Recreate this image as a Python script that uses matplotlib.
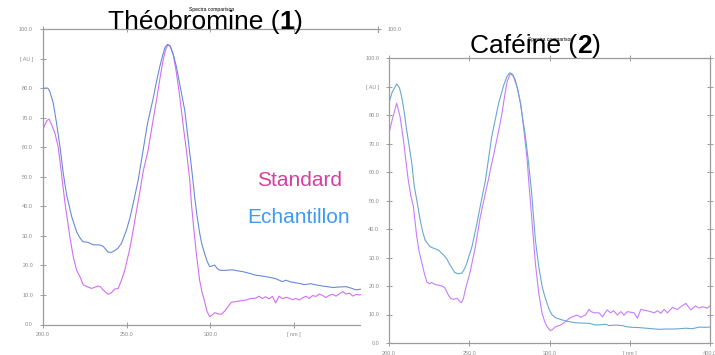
import matplotlib

matplotlib.use("Agg")
import matplotlib.pyplot as plt
from matplotlib.patches import Rectangle

W, H = 715, 355

plt.rcParams["font.family"] = ["Liberation Sans", "DejaVu Sans"]

# Théobromine (1): standard spectrum
theo_std_nm = [200, 202.4, 203.8, 205.4, 207.3, 209.3, 211, 213.3, 216.2, 218.2,
               220.2, 222.2, 224.2, 226.5, 229.2, 231, 233, 234.5, 236, 239,
               241, 243, 245, 247, 249, 252, 254, 256, 258, 260,
               262.9, 265.5, 267.9, 270, 271.8, 273.3, 274.5, 276, 278, 279.8,
               281.3, 282.7, 284.2, 285.7, 287.7, 288.7, 290, 291.6, 293.6, 295,
               296.6, 298, 299.6, 301, 302.6, 304.5, 306.5, 308.5, 310.5, 312.5,
               314.5, 318, 321.4, 324, 327, 329, 331, 333, 335, 337,
               339, 341, 343, 345, 347, 349, 351, 353, 355, 357,
               359, 361, 363, 365, 367, 369, 371, 373, 375, 377,
               379, 381, 383, 385, 387, 389, 392, 395, 398, 400]
theo_std_au = [65.8, 69, 69.5, 67.5, 64.7, 60, 52, 41, 29.7, 23,
               18.4, 16.2, 13.4, 12.8, 12.2, 12.6, 13, 12.8, 11.7, 10.2,
               10.8, 12, 12.2, 15, 18.4, 25.8, 32, 38.7, 45, 52,
               59, 68, 76, 83.5, 89.5, 93, 94.5, 94.3, 91, 85,
               79, 72.6, 65.5, 59, 49, 41, 33, 24.2, 15, 11,
               7.7, 4.5, 2.6, 3.2, 4, 3.6, 3.5, 4.5, 6, 7.5,
               7.7, 8, 8.3, 8.8, 8.9, 9.6, 8.8, 9.4, 8.7, 9.5,
               7.3, 9.6, 8.7, 9.2, 8.9, 8.4, 8.8, 8.3, 9.0, 9.6,
               8.8, 9.8, 9.5, 10.3, 9.8, 9.1, 9.9, 10.2, 9.6, 10.4,
               11.1, 10.3, 10.6, 9.6, 10.2, 10, 10.5, 10, 10.4, 10.2]

# Théobromine (1): sample spectrum
theo_ech_nm = [200, 203, 204.3, 206.3, 208.3, 210.3, 212.3, 214.3, 217.3, 220.2,
               222, 224, 227, 230, 234, 236, 239, 241, 243, 245,
               247, 250, 252, 254, 257, 259.9, 262.5, 265.7, 268, 269.8,
               271.5, 273, 274.5, 276, 277.8, 279.8, 282, 284.7, 286.7, 288.7,
               290.7, 292, 293.6, 295, 296.6, 298, 299.6, 301, 302.6, 304,
               305.5, 308, 313, 316, 320, 324, 327, 331, 335, 339,
               343, 345, 348, 353, 356, 360, 363, 367, 370, 373,
               377, 381, 384, 387, 390, 394, 397, 400]
theo_ech_au = [80, 80, 78.8, 74.9, 68, 60.2, 51, 43.8, 36.5, 31.4,
               29.5, 28, 27.8, 27, 26.9, 26.5, 24.5, 24.4, 25, 25.9,
               27.5, 32, 36, 41, 49, 59, 68, 76, 82.5, 87.2,
               91, 93.8, 94.8, 94.3, 91.5, 87.2, 80.5, 72.6, 63, 53.4,
               43, 37, 31, 27, 24, 21.5, 19.6, 19.8, 20.1, 19,
               18.4, 18.3, 18.5, 18.2, 17.8, 17.2, 16.7, 16.4, 16, 15.5,
               14.5, 15, 14.4, 13.9, 13.5, 13.8, 13.4, 13, 12.8, 12.5,
               12.7, 12.8, 12.3, 11.7, 12.0, 12.4, 12.0, 12.2]

# Caféine (2): standard spectrum
caf_std_nm = [200, 202.5, 204.8, 206.9, 209, 210.5, 212, 213.5, 215.2, 217.3,
              218.8, 220.5, 222, 223.5, 225, 226.7, 228.3, 229.8, 231.5, 233,
              234.6, 236, 237, 238.5, 240.2, 242.3, 243.5, 245, 246.3, 247.5,
              250.6, 253.8, 256.9, 260, 262, 264, 266.3, 268.5, 270.4, 272,
              273.6, 275.6, 277.5, 280, 282, 284, 286.1, 287, 289.2, 291.2,
              293.3, 295.4, 297, 298.5, 300.6, 302, 303.7, 305.3, 306.9, 310,
              312, 314.2, 317.3, 319.4, 321, 322.5, 324.6, 326, 327.7, 330.8,
              333, 334.5, 336, 338, 340, 342.3, 344.4, 346.5, 348.5, 350.5,
              352.7, 354.8, 356.9, 359, 361, 363, 365.2, 367.3, 369.4, 371.4,
              373.5, 375, 376.7, 378.3, 379.8, 382, 385, 388, 391, 393,
              395.2, 396.8, 398.3, 400]
caf_std_au = [73.6, 79.5, 84.1, 79.4, 71.2, 64, 57.2, 52, 47.8, 37.3,
              32, 28, 24.5, 21.5, 20.8, 21.2, 20.6, 20.4, 20.2, 20,
              19.5, 18, 16.8, 15.6, 15.3, 15.7, 15, 14.1, 15.5, 18.6,
              25, 33.8, 44.3, 52.5, 57.5, 63, 69, 75, 80.6, 86.5,
              91.7, 94.6, 93.5, 89.5, 84, 75, 64.2, 57.2, 42, 28,
              17.4, 10.4, 7.5, 5.7, 4.3, 4.8, 5.7, 6.0, 6.3, 7.5,
              8.5, 9.2, 9.8, 9, 9.5, 9.8, 11.8, 11.0, 10.6, 10.6,
              9.2, 10.5, 11.6, 10.6, 11.3, 9.8, 11, 9.8, 11, 10.8,
              10.6, 8.7, 11.8, 11.5, 11.3, 11.0, 10.6, 11.3, 10.4, 11.8,
              10.6, 11.5, 12.5, 12.0, 11.8, 12.8, 13.9, 11.6, 13, 12.3,
              12.7, 12.5, 12.2, 13]

# Caféine (2): sample spectrum
caf_ech_nm = [200, 202, 204.8, 206.5, 207.9, 209.5, 211, 212.6, 214.2, 215.8,
              217.3, 219.4, 221, 222.5, 225.6, 228, 230.8, 234, 236, 238,
              241, 243, 245.4, 247, 248.5, 250, 251.7, 254.8, 258, 260,
              261, 264, 268.3, 271.5, 273.5, 275.2, 277, 278.7, 280.3, 281.9,
              285, 287, 288.7, 289.2, 291.2, 293.3, 295.4, 297, 298.5, 300,
              301.7, 304, 307.9, 312, 316.2, 320, 324.6, 328.7, 332, 335,
              337, 341, 345.4, 348, 351.7, 356, 360, 364, 368.3, 372,
              376.7, 381, 385, 389, 393.3, 397, 400]
caf_ech_au = [84.3, 88, 90.9, 89.5, 86.4, 81, 74.7, 69, 63, 54.8,
              50.2, 43.2, 39, 36.1, 33.8, 33.2, 32.6, 30.9, 29.5, 27.4,
              24.7, 24.3, 24.5, 26, 28, 30.8, 33.8, 42, 51.3, 56.8,
              60.7, 72.4, 84.1, 90.5, 93.5, 94.8, 94.3, 92.3, 88.5, 84.1,
              72.4, 63, 53.7, 50.2, 36.1, 26.8, 19.8, 16.5, 13.9, 11.5,
              9.8, 8.8, 8.1, 7.5, 7.1, 7.0, 6.9, 6.3, 6.4, 6.6,
              6.1, 6.3, 6.1, 5.7, 5.5, 5.4, 5.2, 5.0, 4.8, 4.9,
              4.9, 5.0, 5.2, 5.0, 5.6, 5.5, 5.6]

au_ticks = [0, 10, 20, 30, 40, 50, 60, 70, 80, 90, 100]
au_labels = ["0.0", "10.0", "20.0", "30.0", "40.0", "50.0",
             "60.0", "70.0", "80.0", "[ AU ]", "100.0"]
nm_ticks = [200, 250, 300, 350, 400]
nm_labels = ["200.0", "250.0", "300.0", "[ nm ]", "400.0"]

GREY = "#9c9c9c"


def px_axes(fig, x0, y0, x1, y1, zorder):
    ax = fig.add_axes([x0 / W, 1 - y1 / H, (x1 - x0) / W, (y1 - y0) / H])
    ax.set_zorder(zorder)
    return ax


def style_spectrum_axes(ax, right_labels):
    ax.set_xlim(200, 400)
    ax.set_ylim(0, 100)
    ax.set_xticks(nm_ticks, nm_labels)
    ax.set_yticks(au_ticks, au_labels)
    for side in ax.spines.values():
        side.set_color(GREY)
        side.set_linewidth(0.9)
    ax.tick_params(direction="inout", length=4, width=0.7, color=GREY,
                   labelsize=4, labelcolor="#8c8c8c",
                   top=True, right=True, labelright=right_labels)
    ax.tick_params(axis="x", pad=3.5)
    ax.tick_params(axis="y", pad=5)


def mixed_title(fig, cx, base_y, parts, size=19):
    # lay out normal/bold pieces one after another, centred on cx
    renderer = fig.canvas.get_renderer()
    pieces = []
    for s, weight in parts:
        t = fig.text(0, 0, s, fontsize=size, fontweight=weight, va="baseline",
                     color="black", zorder=5)
        pieces.append((t, t.get_window_extent(renderer).width))
    x = cx - sum(w for _, w in pieces) / 2
    for t, w in pieces:
        t.set_position((x / W, 1 - base_y / H))
        x += w


fig = plt.figure(figsize=(W / 100, H / 100), dpi=100)

# left spectrum (Théobromine)
ax1 = px_axes(fig, 42.7, 29, 378, 324.5, 0)
style_spectrum_axes(ax1, True)
ax1.plot(theo_std_nm, theo_std_au, color="#d46ef2", lw=0.8)
ax1.plot(theo_ech_nm, theo_ech_au, color="#6a8ad8", lw=0.8)

# second screenshot sits on top of the first one
fig.add_artist(Rectangle((361 / W, 0), 1 - 361 / W, 1 - 33 / H,
                         transform=fig.transFigure, facecolor="white",
                         edgecolor="none", zorder=1))

# right spectrum (Caféine)
ax2 = px_axes(fig, 389, 58, 710, 343, 2)
style_spectrum_axes(ax2, False)
ax2.plot(caf_std_nm, caf_std_au, color="#c87cfc", lw=0.8)
ax2.plot(caf_ech_nm, caf_ech_au, color="#68a8d0", lw=0.8)

mixed_title(fig, 205.5, 29, [("Théobromine (", "normal"), ("1", "bold"), (")", "normal")])
mixed_title(fig, 535, 53, [("Caféine (", "normal"), ("2", "bold"), (")", "normal")])

fig.text(212 / W, 1 - 10 / H, "Spectra comparison", fontsize=3.6,
         ha="center", va="center", zorder=6)
fig.text(551 / W, 1 - 39 / H, "Spectra comparison", fontsize=3.6,
         ha="center", va="center", zorder=6)

fig.text(300 / W, 1 - 186 / H, "Standard", fontsize=15, color="#d4409f",
         ha="center", va="baseline")
fig.text(299 / W, 1 - 223 / H, "Echantillon", fontsize=15, color="#3d9af5",
         ha="center", va="baseline")

fig.savefig("out.png", dpi=100)
